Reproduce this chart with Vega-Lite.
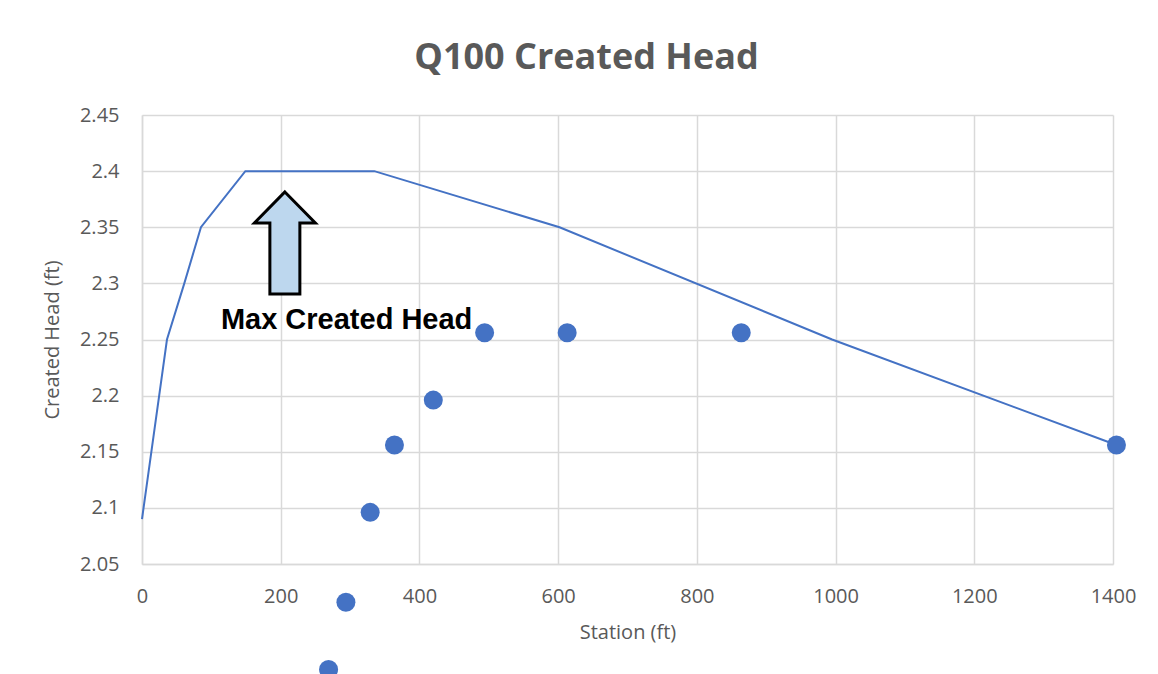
{
  "$schema": "https://vega.github.io/schema/vega-lite/v6.json",
  "autosize": "none",
  "width": 971,
  "height": 449,
  "padding": {"left": 142, "top": 115, "right": 45, "bottom": 110},
  "background": "white",
  "title": {
    "text": "Q100 Created Head",
    "font": "Open Sans",
    "fontSize": 36,
    "fontWeight": "bold",
    "color": "#595959",
    "anchor": "middle",
    "dx": -41,
    "offset": 28
  },
  "datasets": {
    "line": [
      {"station": 0, "head": 2.09},
      {"station": 36, "head": 2.25},
      {"station": 61, "head": 2.30},
      {"station": 85, "head": 2.35},
      {"station": 149, "head": 2.40},
      {"station": 335, "head": 2.40},
      {"station": 602, "head": 2.35},
      {"station": 995, "head": 2.25},
      {"station": 1405, "head": 2.156}
    ],
    "points": [
      {"station": 269, "head": 1.956},
      {"station": 294, "head": 2.016},
      {"station": 329, "head": 2.096},
      {"station": 364, "head": 2.156},
      {"station": 420, "head": 2.196},
      {"station": 494, "head": 2.256},
      {"station": 613, "head": 2.256},
      {"station": 864, "head": 2.256},
      {"station": 1405, "head": 2.156}
    ],
    "arrow": [
      {"station": 206, "head": 2.336}
    ],
    "label": [
      {"station": 295, "head": 2.267, "text": "Max Created Head"}
    ]
  },
  "encoding": {
    "x": {
      "field": "station",
      "type": "quantitative",
      "scale": {"domain": [0, 1400], "nice": false, "zero": false},
      "axis": {
        "title": "Station (ft)",
        "values": [0, 200, 400, 600, 800, 1000, 1200, 1400],
        "format": "d",
        "labelFlush": false,
        "labelPadding": 22,
        "titlePadding": 16
      }
    },
    "y": {
      "field": "head",
      "type": "quantitative",
      "scale": {"domain": [2.05, 2.45], "nice": false, "zero": false},
      "axis": {
        "title": "Created Head (ft)",
        "values": [2.05, 2.1, 2.15, 2.2, 2.25, 2.3, 2.35, 2.4, 2.45],
        "format": ".2~f",
        "labelFlush": false,
        "labelPadding": 23,
        "titlePadding": 17
      }
    }
  },
  "layer": [
    {
      "data": {"name": "line"},
      "mark": {"type": "line", "color": "#4472C4", "strokeWidth": 2, "clip": false}
    },
    {
      "data": {"name": "points"},
      "mark": {"type": "point", "shape": "circle", "filled": true, "size": 361, "color": "#4472C4", "opacity": 1, "clip": false}
    },
    {
      "data": {"name": "arrow"},
      "mark": {
        "type": "point",
        "shape": "M0,-1L0.598,-0.392L0.294,-0.392L0.294,1L-0.294,1L-0.294,-0.392L-0.598,-0.392Z",
        "size": 10404,
        "filled": true,
        "fill": "#BDD7EE",
        "fillOpacity": 1,
        "stroke": "#000000",
        "strokeWidth": 3,
        "strokeOpacity": 1,
        "strokeJoin": "miter"
      }
    },
    {
      "data": {"name": "label"},
      "mark": {
        "type": "text",
        "font": "Liberation Sans",
        "fontSize": 29,
        "fontWeight": "bold",
        "color": "#000000",
        "align": "center",
        "baseline": "middle"
      },
      "encoding": {"text": {"field": "text"}}
    }
  ],
  "config": {
    "view": {"stroke": null},
    "axis": {
      "labelFont": "Open Sans",
      "labelFontSize": 20,
      "labelColor": "#595959",
      "titleFont": "Open Sans",
      "titleFontSize": 20,
      "titleFontWeight": "normal",
      "titleColor": "#595959",
      "ticks": false,
      "domainColor": "#D9D9D9",
      "domainWidth": 1.5,
      "gridColor": "#D9D9D9",
      "gridWidth": 1.5,
      "gridOpacity": 1
    }
  }
}
